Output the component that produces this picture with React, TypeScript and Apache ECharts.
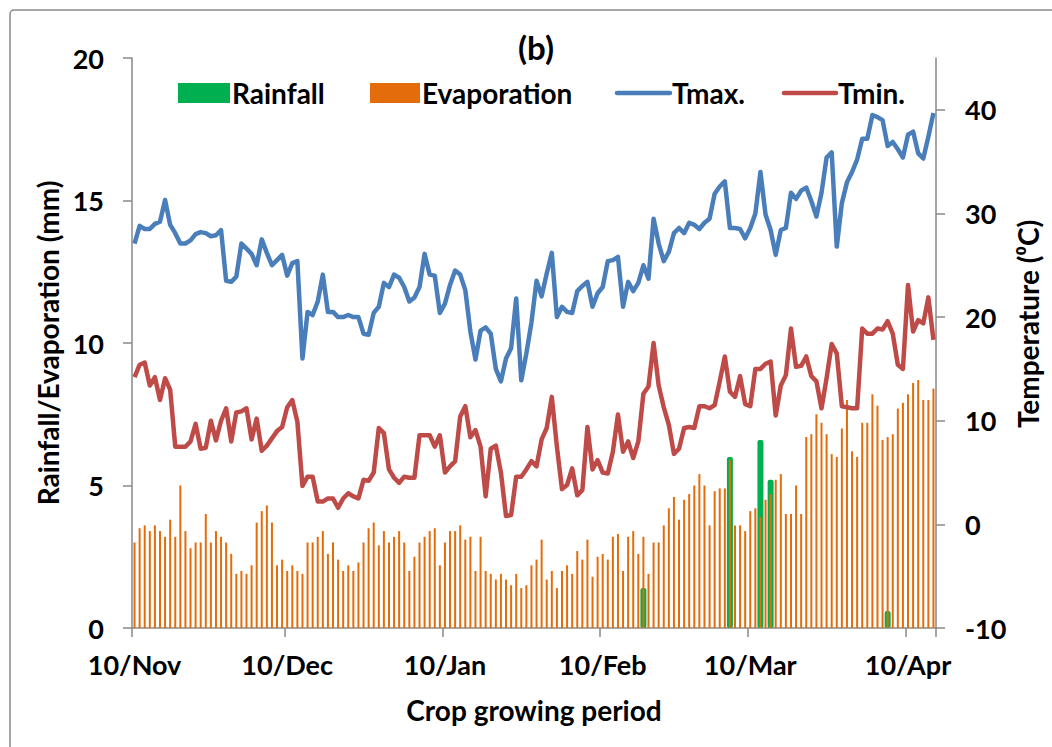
import React, { useEffect, useRef } from "react";
import * as echarts from "echarts";

const MONTHS = ["Jan", "Feb", "Mar", "Apr", "May", "Jun", "Jul", "Aug", "Sep", "Oct", "Nov", "Dec"];
const DAY_COUNT = 158; // 10/Nov/2015 .. 15/Apr/2016

const categories: string[] = [];
for (let i = 0; i < DAY_COUNT; i++) {
  const d = new Date(Date.UTC(2015, 10, 10 + i));
  categories.push(`${d.getUTCDate()}/${MONTHS[d.getUTCMonth()]}`);
}

const evaporation = [
  3.0, 3.5, 3.6, 3.4, 3.6, 3.4, 3.2, 3.8, 3.2, 5.0, 3.4, 2.8, 3.0, 3.0, 4.0, 3.0, 3.4, 3.2, 3.0, 2.6,
  1.9, 2.0, 1.9, 2.2, 3.7, 4.1, 4.3, 3.7, 2.2, 2.4, 2.0, 2.2, 2.0, 1.9, 3.0, 3.0, 3.2, 3.4, 2.6,
  3.0, 2.4, 2.0, 2.2, 2.0, 2.3, 3.0, 3.5, 3.7, 2.9, 3.4, 3.0, 3.2, 3.4, 3.0, 2.0, 2.5, 3.0, 3.2, 3.4,
  3.5, 2.2, 3.0, 3.4, 3.4, 3.6, 3.1, 3.2, 2.0, 3.2, 2.0, 1.9, 1.7, 1.9, 1.7, 1.5, 1.9, 1.4, 1.5,
  2.2, 2.4, 3.1, 1.7, 2.0, 1.4, 2.0, 2.2, 1.9, 2.7, 2.4, 3.1, 1.8, 2.5, 2.6, 2.4, 3.2, 3.3, 2.0, 3.2,
  3.4, 2.6, 3.2, 1.9, 3.0, 3.0, 3.6, 4.2, 4.6, 3.8, 4.5, 4.7, 5.0, 5.4, 5.0, 3.6, 4.8, 4.9, 4.9,
  5.9, 3.6, 3.6, 3.4, 4.1, 4.2, 3.9, 4.5, 4.7, 5.2, 5.4, 4.0, 4.0, 5.0, 4.0, 6.7, 6.8, 7.5, 7.2, 6.8,
  6.1, 6.0, 7.0, 8.0, 6.2, 6.0, 7.2, 7.2, 8.2, 7.8, 6.6, 6.7, 6.8, 7.7, 7.9, 8.2, 8.6, 8.7, 8.0, 8.0, 8.4,
];

const rainDates = ["18/Feb", "6/Mar", "12/Mar", "14/Mar", "6/Apr"];
const rainValues = [1.4, 6.0, 6.6, 5.2, 0.6];

const tmax = [
  27.1, 28.8, 28.5, 28.5, 29.0, 29.2, 31.3, 28.9, 28.1, 27.1, 27.1, 27.4, 28.0, 28.2, 28.1, 27.8, 27.9, 28.4, 23.5, 23.4,
  23.9, 27.1, 26.6, 26.1, 25.0, 27.5, 26.2, 25.0, 25.5, 26.0, 24.0, 25.2, 25.4, 16.0, 20.5, 20.2, 21.5, 24.1, 20.5,
  20.5, 20.0, 20.0, 20.2, 20.0, 20.0, 18.4, 18.3, 20.4, 21.0, 23.3, 22.9, 24.1, 23.8, 22.9, 21.5, 21.9, 22.9, 26.1, 24.1,
  24.0, 20.4, 21.3, 23.1, 24.5, 24.1, 22.6, 18.6, 15.9, 18.7, 19.0, 18.4, 15.0, 13.8, 16.0, 17.0, 21.8, 13.9, 16.5,
  19.5, 23.5, 22.0, 24.2, 26.2, 20.0, 21.0, 20.5, 20.4, 22.5, 23.0, 23.4, 21.0, 22.3, 22.9, 25.4, 25.5, 25.8, 21.0, 23.4,
  22.5, 23.3, 25.0, 23.7, 29.5, 27.1, 25.4, 26.3, 28.1, 28.6, 28.1, 29.1, 28.9, 28.5, 29.1, 29.5, 31.9, 32.6, 33.1,
  28.6, 28.6, 28.5, 27.6, 28.6, 30.0, 34.0, 29.9, 28.4, 26.0, 28.4, 28.6, 32.0, 31.4, 32.2, 32.5, 31.2, 29.7, 32.0, 35.4,
  35.9, 26.8, 31.0, 33.0, 34.0, 35.2, 37.2, 37.2, 39.5, 39.3, 39.0, 36.5, 36.9, 36.2, 35.4, 37.6, 37.9, 35.8, 35.3, 37.4, 39.7,
];

const tmin = [
  14.2, 15.4, 15.6, 13.4, 14.2, 12.0, 14.1, 13.0, 7.5, 7.5, 7.5, 8.0, 9.7, 7.3, 7.4, 10.0, 8.1, 10.0, 11.2, 8.0,
  10.8, 10.9, 11.2, 8.2, 10.2, 7.1, 7.6, 8.3, 9.0, 9.4, 11.3, 12.0, 9.9, 3.7, 4.6, 4.6, 2.2, 2.2, 2.5,
  2.5, 1.6, 2.5, 3.0, 2.7, 2.5, 4.3, 4.2, 5.0, 9.3, 8.8, 5.3, 4.5, 4.0, 4.6, 4.5, 4.5, 8.6, 8.6, 8.6,
  7.5, 8.6, 5.0, 5.6, 6.1, 10.4, 11.4, 8.4, 9.1, 7.5, 2.7, 7.3, 7.6, 5.0, 0.8, 0.9, 4.6, 4.6, 5.3,
  6.1, 5.6, 8.2, 9.3, 12.3, 7.5, 3.4, 3.8, 5.4, 2.8, 3.3, 9.4, 5.3, 6.2, 5.0, 4.9, 7.0, 10.6, 7.0, 8.0,
  6.4, 8.0, 12.6, 13.3, 17.5, 13.4, 11.3, 9.6, 6.8, 7.3, 9.3, 9.4, 9.3, 11.4, 11.4, 11.2, 11.5, 13.8, 16.2,
  12.8, 12.3, 14.3, 11.6, 11.4, 15.0, 15.0, 15.5, 15.7, 10.5, 13.4, 14.4, 18.9, 15.2, 15.3, 16.2, 14.3, 13.8, 11.2, 14.1,
  17.4, 16.5, 11.4, 11.3, 11.2, 11.2, 18.9, 18.4, 18.4, 18.9, 18.8, 19.6, 18.4, 15.4, 15.0, 23.1, 18.6, 19.7, 19.4, 21.9, 17.8,
];

const tempTicks = [-10, 0, 10, 20, 30, 40];

const FONT = "Lato, 'Noto Sans', sans-serif";
const AXIS_GRAY = "#898989";
const C_RAIN = "#00B050";
const C_EVAP = "#E46C0A";
const C_TMAX = "#4A7EBB";
const C_TMIN = "#BE4B48";

export default function App() {
  const ref = useRef<HTMLDivElement>(null);

  useEffect(() => {
    if (!ref.current) return;
    const chart = echarts.init(ref.current, undefined, { renderer: "svg" });
    const rainSeries = categories.map((c) => {
      const k = rainDates.indexOf(c);
      return k >= 0 ? rainValues[k] : "-";
    });
    const isTenth = (_i: number, v: string) => v.startsWith("10/");
    const labelFont = { fontFamily: FONT, fontWeight: "bold" as const, fontSize: 27, color: "#000" };
    const nameFont = { fontFamily: FONT, fontWeight: "bold" as const, fontSize: 28, color: "#000" };

    chart.setOption({
      animation: false,
      backgroundColor: "#fff",
      grid: { left: 132, right: 116, top: 58, bottom: 119 },
      xAxis: [
        {
          type: "category",
          data: categories,
          boundaryGap: true,
          axisLine: { lineStyle: { color: AXIS_GRAY, width: 1.5 } },
          axisTick: { show: true, interval: isTenth, length: 9, lineStyle: { color: AXIS_GRAY, width: 1.5 } },
          axisLabel: { interval: isTenth, margin: 23, ...labelFont },
          name: "Crop growing period",
          nameLocation: "middle",
          nameGap: 68,
          nameTextStyle: { ...nameFont },
          splitLine: { show: false },
        },
        {
          type: "category",
          data: categories,
          boundaryGap: true,
          show: false,
        },
      ],
      yAxis: [
        {
          type: "value",
          min: 0,
          max: 20,
          interval: 5,
          axisLine: { show: true, lineStyle: { color: AXIS_GRAY, width: 1.5 } },
          axisTick: { show: true, length: 9, lineStyle: { color: AXIS_GRAY, width: 1.5 } },
          axisLabel: { margin: 28, ...labelFont },
          splitLine: { show: false },
          name: "Rainfall/Evaporation (mm)",
          nameLocation: "middle",
          nameGap: 70,
          nameTextStyle: { ...nameFont },
        },
        {
          type: "value",
          position: "right",
          min: -10,
          max: 45,
          axisLine: { show: true, lineStyle: { color: AXIS_GRAY, width: 1.5 } },
          axisTick: { show: true, length: 9, customValues: tempTicks, lineStyle: { color: AXIS_GRAY, width: 1.5 } },
          axisLabel: { margin: 29, customValues: tempTicks, ...labelFont },
          splitLine: { show: false },
        },
      ],
      series: [
        {
          name: "Rainfall",
          type: "bar",
          xAxisIndex: 1,
          yAxisIndex: 0,
          data: rainSeries,
          barWidth: 6,
          itemStyle: { color: C_RAIN, borderRadius: 2 },
          z: 2,
        },
        {
          name: "Evaporation",
          type: "bar",
          xAxisIndex: 0,
          yAxisIndex: 0,
          data: evaporation,
          barWidth: 2,
          itemStyle: { color: C_EVAP },
          z: 3,
        },
        {
          name: "Tmax.",
          type: "line",
          yAxisIndex: 1,
          data: tmax,
          symbol: "none",
          lineStyle: { color: C_TMAX, width: 4.5, join: "round" },
          itemStyle: { color: C_TMAX },
          z: 4,
        },
        {
          name: "Tmin.",
          type: "line",
          yAxisIndex: 1,
          data: tmin,
          symbol: "none",
          lineStyle: { color: C_TMIN, width: 4.5, join: "round" },
          itemStyle: { color: C_TMIN },
          z: 4,
        },
      ],
      graphic: [
        {
          type: "rect",
          shape: { x: 10, y: 10, width: 1100, height: 800, r: 4 },
          style: { fill: "none", stroke: AXIS_GRAY, lineWidth: 1.5 },
          silent: true,
        },
        {
          type: "text",
          x: 536,
          y: 47,
          style: { text: "(b)", fill: "#000", font: `bold 33px ${FONT}`, align: "center", verticalAlign: "middle" },
        },
        { type: "rect", shape: { x: 178, y: 83, width: 52, height: 20 }, style: { fill: C_RAIN } },
        {
          type: "text",
          x: 232,
          y: 93,
          style: { text: "Rainfall", fill: "#000", font: `bold 28px ${FONT}`, align: "left", verticalAlign: "middle" },
        },
        { type: "rect", shape: { x: 370, y: 83, width: 50, height: 20 }, style: { fill: C_EVAP } },
        {
          type: "text",
          x: 422,
          y: 93,
          style: { text: "Evaporation", fill: "#000", font: `bold 28px ${FONT}`, align: "left", verticalAlign: "middle" },
        },
        {
          type: "line",
          shape: { x1: 617, y1: 93, x2: 670, y2: 93 },
          style: { stroke: C_TMAX, lineWidth: 4.5, lineCap: "round" },
        },
        {
          type: "text",
          x: 672,
          y: 93,
          style: { text: "Tmax.", fill: "#000", font: `bold 28px ${FONT}`, align: "left", verticalAlign: "middle" },
        },
        {
          type: "line",
          shape: { x1: 784, y1: 93, x2: 836, y2: 93 },
          style: { stroke: C_TMIN, lineWidth: 4.5, lineCap: "round" },
        },
        {
          type: "text",
          x: 838,
          y: 93,
          style: { text: "Tmin.", fill: "#000", font: `bold 28px ${FONT}`, align: "left", verticalAlign: "middle" },
        },
        {
          type: "text",
          x: 1028,
          y: 324,
          rotation: Math.PI / 2,
          style: {
            text: "Temperature (\u2070C)",
            fill: "#000",
            font: `bold 28px ${FONT}`,
            align: "center",
            verticalAlign: "middle",
          },
        },
      ],
    });
    return () => chart.dispose();
  }, []);

  return (
    <div
      ref={ref}
      style={{ position: "fixed", left: 0, top: 0, width: 1052, height: 747, background: "#fff" }}
    />
  );
}
